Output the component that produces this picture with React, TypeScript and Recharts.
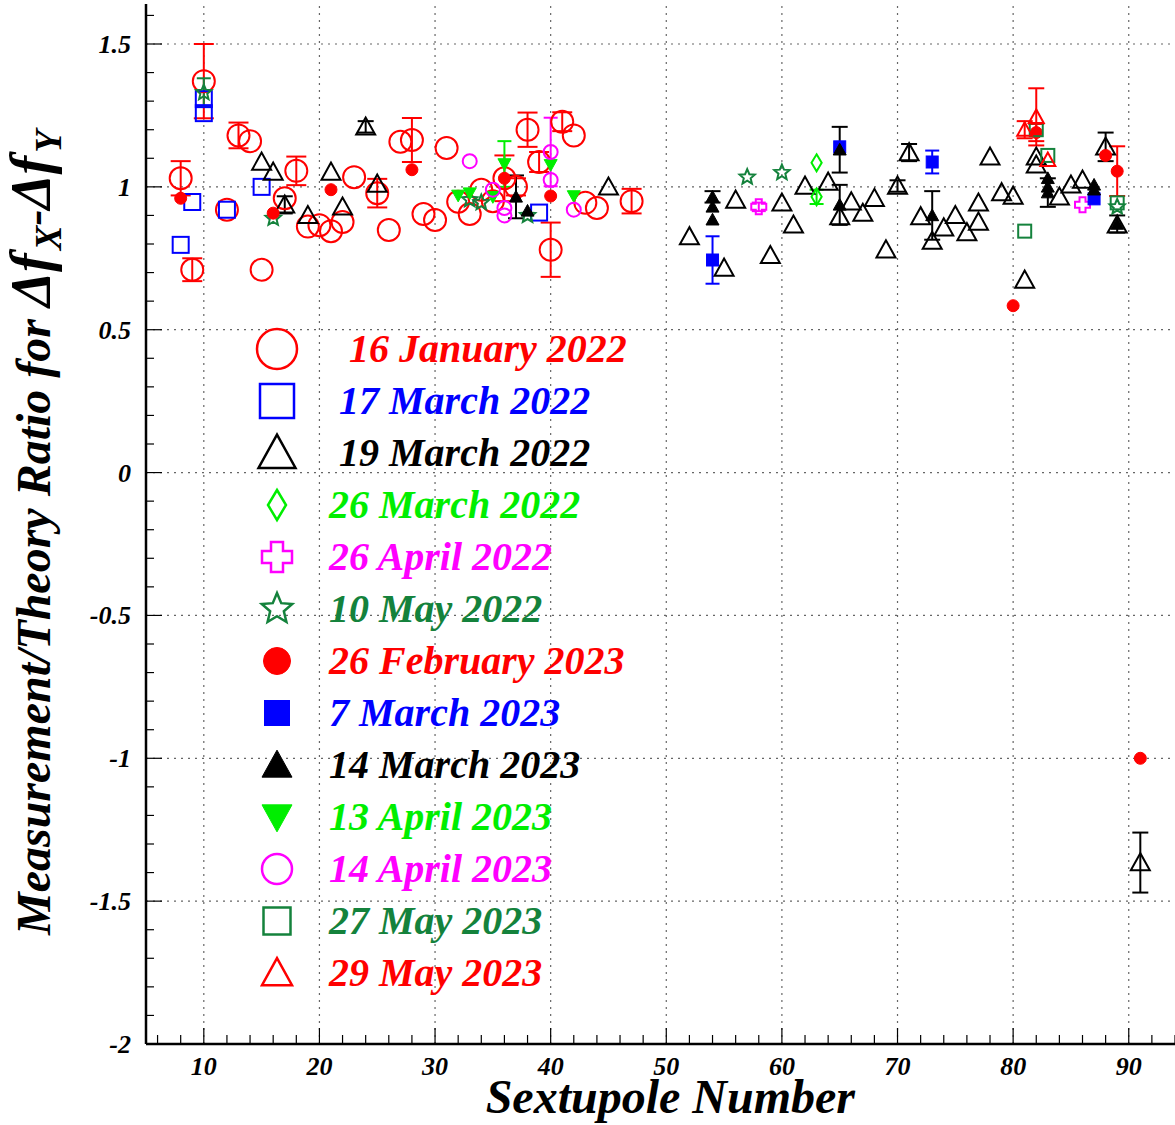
import { ErrorBar, Legend, ReferenceLine, Scatter, ScatterChart, XAxis, YAxis } from "recharts";

// [sextupole, ratio, error]
type Pt = [number, number, number?];

const jan16_2022: Pt[] = [
	[8, 1.03, 0.06], [9, 0.71, 0.04], [10, 1.37, 0.13], [12, 0.92], [13, 1.18, 0.045], [14, 1.16],
	[15, 0.71], [17, 0.96], [18, 1.056, 0.05], [19, 0.861], [20, 0.866], [21, 0.845], [22, 0.877],
	[23, 1.034], [25, 0.978, 0.05], [26, 0.849], [27, 1.158], [28, 1.164, 0.077], [29, 0.905],
	[30, 0.884], [31, 1.136], [32, 0.948], [33, 0.905], [34, 0.99], [35, 0.95], [36, 1.03, 0.08],
	[37, 1.0, 0.03], [38, 1.2, 0.06], [39, 1.087, 0.035], [40, 0.78, 0.095], [41, 1.228, 0.033],
	[42, 1.18], [43, 0.944], [44, 0.926], [47, 0.95, 0.043],
];
const mar17_2022: Pt[] = [[8, 0.797], [9, 0.947], [10, 1.307], [10, 1.258], [12, 0.92], [15, 1.0], [39, 0.91]];
const mar19_2022: Pt[] = [
	[15, 1.087], [16, 1.052], [17, 0.937, 0.03], [19, 0.9], [21, 1.052], [22, 0.93], [24, 1.21, 0.02],
	[25, 1.01], [45, 1.0], [52, 0.826], [55, 0.716], [56, 0.954], [59, 0.76], [60, 0.944], [61, 0.867],
	[62, 1.003], [64, 1.017], [65, 0.896], [66, 0.948], [67, 0.908], [68, 0.96], [69, 0.78],
	[70, 1.003, 0.02], [71, 1.12, 0.03], [72, 0.896], [73, 0.81], [74, 0.857], [75, 0.9], [76, 0.84],
	[77, 0.944], [77, 0.877], [78, 1.105], [79, 0.98], [80, 0.968], [81, 0.674], [82, 1.105],
	[82, 1.077], [84, 0.965], [85, 1.007], [86, 1.024], [88, 1.14, 0.05], [89, 0.867], [91, -1.365, 0.105],
];
const mar26_2022: Pt[] = [[63, 1.084], [63, 0.965, 0.025]];
const apr26_2022: Pt[] = [[58, 0.93, 0.015], [86, 0.937]];
const may10_2022: Pt[] = [[10, 1.33, 0.05], [16, 0.89], [33, 0.955], [34, 0.945], [38, 0.9], [57, 1.034], [60, 1.05], [89, 0.93]];
const feb26_2023: Pt[] = [
	[8, 0.96], [16, 0.908], [21, 0.99], [28, 1.06], [36, 1.03], [40, 0.968], [80, 0.584],
	[82, 1.19, 0.03], [88, 1.11], [89, 1.055, 0.087], [91, -1.0],
];
const mar7_2023: Pt[] = [[54, 0.744, 0.083], [65, 1.14], [73, 1.087, 0.04], [87, 0.958]];
const mar14_2023: Pt[] = [
	[37, 0.965, 0.075], [38, 0.916], [54, 0.965, 0.02], [54, 0.93], [54, 0.885], [65, 1.13, 0.08],
	[65, 0.937, 0.07], [73, 0.9, 0.085], [83, 1.03], [83, 1.0], [83, 0.98, 0.05], [87, 1.007], [87, 0.99],
	[89, 0.87, 0.03],
];
const apr13_2023: Pt[] = [[32, 0.97], [33, 0.978], [35, 0.965], [36, 1.08, 0.08], [40, 1.077], [42, 0.968]];
const apr14_2023: Pt[] = [[33, 1.09], [35, 0.99], [36, 0.926], [36, 0.9], [40, 1.122, 0.12], [40, 1.024], [42, 0.92]];
const may27_2023: Pt[] = [[81, 0.845], [82, 1.2], [83, 1.11], [89, 0.944]];
const may29_2023: Pt[] = [[81, 1.2, 0.03], [82, 1.245, 0.1], [83, 1.094]];

const X_MAJOR = [10, 20, 30, 40, 50, 60, 70, 80, 90];
const X_TICKS = Array.from({ length: 45 }, (_, i) => 6 + 2 * i);
const Y_MAJOR = [-2, -1.5, -1, -0.5, 0, 0.5, 1, 1.5];
const Y_TICKS = Array.from({ length: 37 }, (_, i) => Math.round((-2 + 0.1 * i) * 10) / 10);

const RED = "#ff0000";
const BLUE = "#0000ff";
const BLACK = "#000000";
const GREEN = "#00ee00";
const MAGENTA = "#ff00ff";
const DKGREEN = "#14823c";
const FONT = '"Liberation Serif", "Times New Roman", serif';

type Kind = "circle" | "square" | "triangle" | "triangleDown" | "diamond" | "cross" | "star";

type SeriesCfg = {
	name: string;
	label: string;
	data: Pt[];
	color: string;
	kind: Kind;
	filled: boolean;
	size: number;
	legendSize: number;
	cap: number;
};

const SERIES: SeriesCfg[] = [
	{ name: "16 January 2022", label: "\u00a0\u00a016 January 2022", data: jan16_2022, color: RED, kind: "circle", filled: false, size: 22, legendSize: 40, cap: 10 },
	{ name: "17 March 2022", label: "\u00a017 March 2022", data: mar17_2022, color: BLUE, kind: "square", filled: false, size: 16, legendSize: 34, cap: 8 },
	{ name: "19 March 2022", label: "\u00a019 March 2022", data: mar19_2022, color: BLACK, kind: "triangle", filled: false, size: 19, legendSize: 37, cap: 8 },
	{ name: "26 March 2022", label: "26 March 2022", data: mar26_2022, color: GREEN, kind: "diamond", filled: false, size: 17, legendSize: 30, cap: 7 },
	{ name: "26 April 2022", label: "26 April 2022", data: apr26_2022, color: MAGENTA, kind: "cross", filled: false, size: 15, legendSize: 30, cap: 7 },
	{ name: "10 May 2022", label: "10 May 2022", data: may10_2022, color: DKGREEN, kind: "star", filled: false, size: 16, legendSize: 32, cap: 7 },
	{ name: "26 February 2023", label: "26 February 2023", data: feb26_2023, color: RED, kind: "circle", filled: true, size: 12, legendSize: 27, cap: 8 },
	{ name: "7 March 2023", label: "7 March 2023", data: mar7_2023, color: BLUE, kind: "square", filled: true, size: 12, legendSize: 25, cap: 7 },
	{ name: "14 March 2023", label: "14 March 2023", data: mar14_2023, color: BLACK, kind: "triangle", filled: true, size: 13, legendSize: 30, cap: 8 },
	{ name: "13 April 2023", label: "13 April 2023", data: apr13_2023, color: GREEN, kind: "triangleDown", filled: true, size: 13, legendSize: 30, cap: 7 },
	{ name: "14 April 2023", label: "14 April 2023", data: apr14_2023, color: MAGENTA, kind: "circle", filled: false, size: 14, legendSize: 30, cap: 7 },
	{ name: "27 May 2023", label: "27 May 2023", data: may27_2023, color: DKGREEN, kind: "square", filled: false, size: 13, legendSize: 27, cap: 7 },
	{ name: "29 May 2023", label: "29 May 2023", data: may29_2023, color: RED, kind: "triangle", filled: false, size: 15, legendSize: 30, cap: 8 },
];

function MarkerShape({ kind, cx, cy, size, color, filled, sw }: {
	kind: Kind; cx: number; cy: number; size: number; color: string; filled: boolean; sw: number;
}) {
	const fill = filled ? color : "none";
	const h = size / 2;
	const common = { fill, stroke: color, strokeWidth: filled ? 1 : sw, strokeLinejoin: "miter" as const };
	if (kind === "circle") return <circle cx={cx} cy={cy} r={h} {...common} />;
	if (kind === "square") return <rect x={cx - h} y={cy - h} width={size} height={size} {...common} />;
	if (kind === "triangle" || kind === "triangleDown") {
		const th = size * 0.9;
		const s = kind === "triangle" ? 1 : -1;
		const pts = `${cx},${cy - s * th * 0.55} ${cx - h},${cy + s * th * 0.45} ${cx + h},${cy + s * th * 0.45}`;
		return <polygon points={pts} {...common} />;
	}
	if (kind === "diamond") {
		const w = size * 0.3;
		return <polygon points={`${cx},${cy - h} ${cx + w},${cy} ${cx},${cy + h} ${cx - w},${cy}`} {...common} />;
	}
	if (kind === "cross") {
		const a = size * 0.2;
		const p = [
			[-a, -h], [a, -h], [a, -a], [h, -a], [h, a], [a, a], [a, h], [-a, h], [-a, a], [-h, a], [-h, -a], [-a, -a],
		].map(([dx, dy]) => `${cx + dx},${cy + dy}`).join(" ");
		return <polygon points={p} {...common} />;
	}
	// five-point star
	const pts: string[] = [];
	for (let i = 0; i < 10; i++) {
		const r = i % 2 === 0 ? h : h * 0.45;
		const ang = -Math.PI / 2 + (i * Math.PI) / 5;
		pts.push(`${cx + r * Math.cos(ang)},${cy + r * Math.sin(ang)}`);
	}
	return <polygon points={pts.join(" ")} {...common} />;
}

const tickFont = { fontFamily: FONT, fontWeight: "bold", fontStyle: "italic", fontSize: 26, fill: "#000" };

function BottomTick(props: any) {
	const { x, y, payload } = props;
	const major = X_MAJOR.includes(payload.value);
	return (
		<g>
			<line x1={x} x2={x} y1={y} y2={y - (major ? 16 : 9)} stroke="#000" strokeWidth={1.2} />
			{major && (
				<text x={x} y={y + 31} textAnchor="middle" {...tickFont}>
					{payload.value}
				</text>
			)}
		</g>
	);
}

function TopTick(props: any) {
	const { x, y, payload } = props;
	const major = X_MAJOR.includes(payload.value);
	return <line x1={x} x2={x} y1={y} y2={y + (major ? 16 : 9)} stroke="#000" strokeWidth={1.2} />;
}

function LeftTick(props: any) {
	const { x, y, payload } = props;
	const major = Y_MAJOR.some((m) => Math.abs(m - payload.value) < 1e-6);
	return (
		<g>
			<line x1={x} x2={x + (major ? 16 : 8)} y1={y} y2={y} stroke="#000" strokeWidth={1.2} />
			{major && (
				<text x={x - 15} y={y + 9} textAnchor="end" {...tickFont}>
					{String(payload.value)}
				</text>
			)}
		</g>
	);
}

const titleFont = { fontFamily: FONT, fontWeight: "bold", fontStyle: "italic", fill: "#000" };

function YTitle() {
	return (
		<text transform="rotate(-90)" x={-935} y={50} fontSize={48} {...titleFont}>
			Measurement/Theory Ratio for{" "}
			<tspan fontSize={56}>Δf</tspan>
			<tspan dy={11} dx={3} fontSize={37}>X</tspan>
			<tspan dy={-11}>-</tspan>
			<tspan fontSize={56}>Δf</tspan>
			<tspan dy={11} dx={3} fontSize={37}>Y</tspan>
		</text>
	);
}

function XTitle() {
	return (
		<text x={855} y={1113} textAnchor="end" fontSize={48} {...titleFont}>
			Sextupole Number
		</text>
	);
}

function LegendBox() {
	return (
		<div style={{ fontFamily: FONT, fontWeight: "bold", fontStyle: "italic", fontSize: 40 }}>
			{SERIES.map((s) => (
				<div key={s.name} style={{ display: "flex", alignItems: "center", height: 52 }}>
					<svg width={60} height={52} style={{ display: "block" }}>
						<MarkerShape kind={s.kind} cx={30} cy={26} size={s.legendSize} color={s.color} filled={s.filled} sw={2.5} />
					</svg>
					<span style={{ marginLeft: 22, color: s.color, whiteSpace: "pre", lineHeight: "52px" }}>{s.label}</span>
				</div>
			))}
		</div>
	);
}

export default function App() {
	return (
		<div style={{ position: "absolute", left: 0, top: 0, background: "#fff" }}>
			<ScatterChart width={1175} height={1125} margin={{ top: 4, right: 0, bottom: 0, left: 0 }}>
				<XAxis
					xAxisId="main"
					type="number"
					dataKey="x"
					domain={[5, 94]}
					allowDataOverflow
					ticks={X_TICKS}
					interval={0}
					height={81}
					tickSize={0}
					tickMargin={0}
					tickLine={false}
					tick={BottomTick}
					axisLine={{ stroke: "#000", strokeWidth: 2.5 }}
					label={<XTitle />}
				/>
				<XAxis
					xAxisId="top"
					orientation="top"
					type="number"
					domain={[5, 94]}
					allowDataOverflow
					ticks={X_TICKS}
					interval={0}
					height={0}
					tickSize={0}
					tickMargin={0}
					tickLine={false}
					tick={TopTick}
					axisLine={{ stroke: "#000", strokeWidth: 2 }}
				/>
				<YAxis
					yAxisId="main"
					type="number"
					dataKey="y"
					domain={[-2, 1.64]}
					allowDataOverflow
					ticks={Y_TICKS}
					interval={0}
					width={146}
					tickSize={0}
					tickMargin={0}
					tickLine={false}
					tick={LeftTick}
					axisLine={{ stroke: "#000", strokeWidth: 2.5 }}
					label={<YTitle />}
				/>
				{X_MAJOR.map((v) => (
					<ReferenceLine key={`gx${v}`} xAxisId="main" yAxisId="main" x={v} stroke="#666" strokeWidth={1.2} strokeDasharray="2 5" />
				))}
				{Y_MAJOR.filter((v) => v > -2).map((v) => (
					<ReferenceLine key={`gy${v}`} xAxisId="main" yAxisId="main" y={v} stroke="#666" strokeWidth={1.2} strokeDasharray="2 5" />
				))}
				{SERIES.map((s) => (
					<Scatter
						key={s.name}
						name={s.name}
						xAxisId="main"
						yAxisId="main"
						data={s.data.map(([x, y, err]) => ({ x, y, err }))}
						isAnimationActive={false}
						shape={(p: any) => (
							<MarkerShape kind={s.kind} cx={p.cx} cy={p.cy} size={s.size} color={s.color} filled={s.filled} sw={2} />
						)}
					>
						<ErrorBar dataKey="err" direction="y" width={s.cap} stroke={s.color} strokeWidth={2} isAnimationActive={false} />
					</Scatter>
				))}
				<Legend
					layout="vertical"
					align="center"
					verticalAlign="middle"
					content={() => <LegendBox />}
					wrapperStyle={{ left: 247, top: 323, width: 420, height: 680 }}
				/>
			</ScatterChart>
		</div>
	);
}
